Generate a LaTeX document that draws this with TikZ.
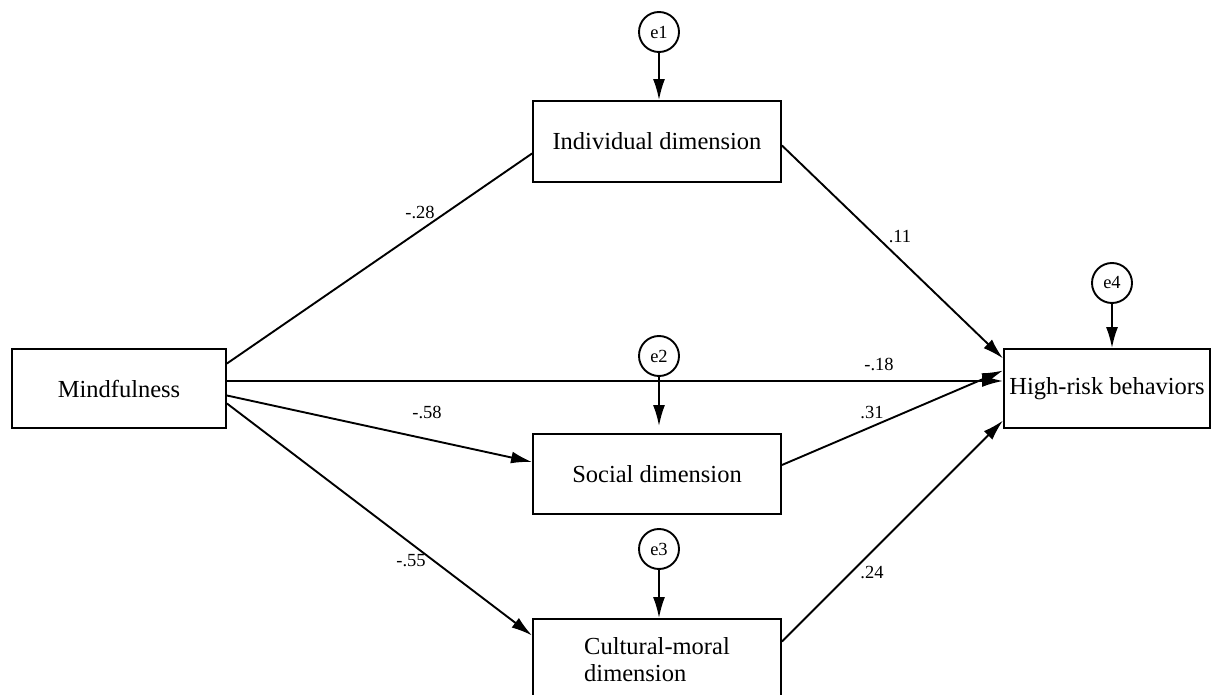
\documentclass[tikz,border=0pt]{standalone}
\usepackage{fontspec}
\setmainfont{Liberation Serif}
\usetikzlibrary{arrows.meta}

\begin{document}
\begin{tikzpicture}[x=1pt,y=-1pt,line width=1.9pt,>={Latex[length=21pt,width=12pt]}]
\newcommand{\boxsize}{\fontsize{24.5}{27}\selectfont}
\newcommand{\numsize}{\fontsize{18.5}{21}\selectfont}
\useasboundingbox (0,0) rectangle (1211,695);
\begin{scope}[shape=rectangle,minimum width=248pt,minimum height=81pt,inner sep=0pt]
\tikzstyle{every node}=[draw,line width=1.9pt,font=\boxsize]
\node[minimum width=214pt,minimum height=79pt] (M) at (119,388.5) {Mindfulness};
\node (D_1) at (657,141.5) {Individual dimension};
\node[minimum height=80pt] (D_2) at (657,474) {Social dimension};
\node[align=left] (D_3) at (657,659.5) {Cultural-moral\\dimension};
\node[minimum width=206pt,minimum height=79pt] (H) at (1107,388.5) {High-risk behaviors};
\end{scope}
\begin{scope}[shape=circle,minimum size=40pt,inner sep=0pt]
\tikzstyle{every node}=[draw,line width=1.9pt,font=\numsize]
\node (e1) at (659,32) {e1};
\node (e2) at (659,356) {e2};
\node (e3) at (659,549) {e3};
\node (e4) at (1112,283) {e4};
\end{scope}
\begin{scope}[font=\numsize,inner sep=0pt]
\node (w_1) at (420,212) {-.28};
\node (w_2) at (900,237) {.11};
\node (w_3) at (879,364) {-.18};
\node (w_4) at (427,412) {-.58};
\node (w_5) at (872,413) {.31};
\node (w_6) at (411,561) {-.55};
\node (w_7) at (872,573) {.24};
\end{scope}
\draw [-] ([yshift=25pt]M.east) -- ([yshift=-12pt]D_1.west);
\draw [->] ([yshift=7.5pt]M.east) -- ([yshift=7.5pt]H.west);
\draw [->] ([yshift=-7pt]M.east) -- ([yshift=12pt]D_2.west);
\draw [->] ([yshift=-15pt]M.east) -- ([yshift=24pt]D_3.west);
\draw [->] ([yshift=-4pt]D_1.east) -- ([yshift=30pt]H.west);
\draw [->] ([yshift=9pt]D_2.east) -- ([yshift=18pt]H.west);
\draw [->] ([yshift=18pt]D_3.east) -- ([yshift=-32pt]H.west);
\draw [->] (e1) -- (e1 |- D_1.north);
\draw [->] (e2) -- ([yshift=7pt]e2 |- D_2.north);
\draw [->] (e3) -- (e3 |- D_3.north);
\draw [->] (e4) -- (e4 |- H.north);
\end{tikzpicture}
\end{document}
